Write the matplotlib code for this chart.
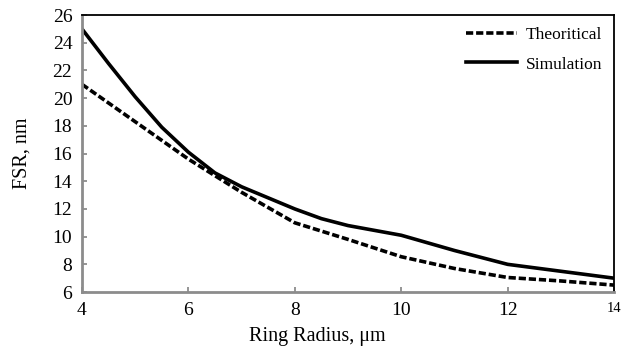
import matplotlib
matplotlib.use('Agg')
import matplotlib.pyplot as plt

# ring radius (um) and FSR (nm)
radius_sim = [4, 4.5, 5, 5.5, 6, 6.5, 7, 8, 8.5, 9, 10, 11, 12, 13, 14]
fsr_sim = [25.0, 22.5, 20.1, 17.9, 16.1, 14.6, 13.6, 12.0, 11.3, 10.8, 10.1, 9.0, 8.0, 7.5, 7.0]

radius_theory = [4, 5, 6, 7, 8, 9, 10, 11, 12, 13, 14]
fsr_theory = [21.0, 18.3, 15.6, 13.2, 11.0, 9.8, 8.55, 7.7, 7.05, 6.8, 6.5]

xticks = [4, 6, 8, 10, 12, 14]
yticks = list(range(6, 27, 2))

plt.rcParams['font.family'] = ['Liberation Serif', 'DejaVu Serif']

fig = plt.figure(figsize=(6.38, 3.51), dpi=100)
ax = fig.add_axes([0.1285, 0.168, 0.834, 0.789])

ax.plot(radius_theory, fsr_theory, color='black', lw=2.6, ls=(0, (2.0, 0.8)),
        label='Theoritical')
ax.plot(radius_sim, fsr_sim, color='black', lw=2.6, label='Simulation')

ax.set_xlim(4, 14)
ax.set_ylim(6, 26)
ax.set_xticks(xticks)
ax.set_yticks(yticks)
ax.tick_params(direction='in', length=3.5, width=1.3, color='#8c8c8c',
               labelsize=14, pad=7)
# the last x label is printed smaller in the original
ax.set_xticklabels([str(t) for t in xticks])
ax.get_xticklabels()[-1].set_fontsize(10.5)

for side in ['left', 'bottom']:
    ax.spines[side].set_color('#8c8c8c')
    ax.spines[side].set_linewidth(2.0)
for side in ['top', 'right']:
    ax.spines[side].set_color('black')
    ax.spines[side].set_linewidth(1.3)

ax.set_xlabel('Ring Radius, μm', fontsize=14.5)
ax.xaxis.set_label_coords(0.442, -0.125)
ax.set_ylabel('FSR, nm', fontsize=14.5, labelpad=15)

leg = ax.legend(loc='upper right', frameon=False, fontsize=12.5,
                handlelength=2.9, handletextpad=0.5, labelspacing=0.75,
                borderaxespad=0.3)

fig.savefig('out.png', dpi=100)
